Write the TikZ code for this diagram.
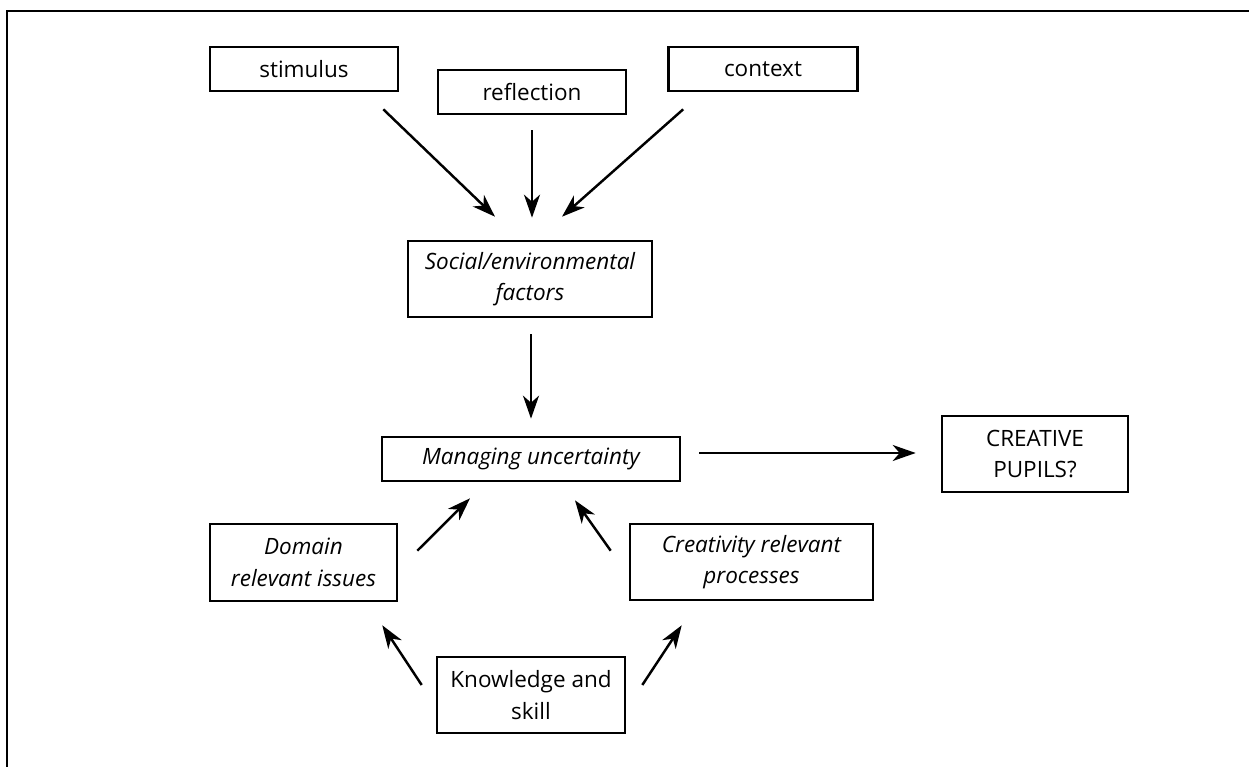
\documentclass[tikz,border=0pt]{standalone}
\usepackage{fontspec}
\setmainfont{Open Sans}
\usepackage{tikz}
\usetikzlibrary{calc}
\usetikzlibrary{arrows.meta}

\begin{document}
\begin{tikzpicture}[
	x=0.02cm, y=-0.02cm,
	factor/.style={
		draw,
		line width=1.5pt,
		inner sep=0pt,
		align=center,
		font=\fontsize{12.8}{18}\selectfont
	},
	link/.style={line width=1.4pt, -{Stealth[length=4.6mm, width=3.2mm, inset=1.4mm]}}
]

\useasboundingbox (0,0) rectangle (1249,767);
\draw[line width=1.7pt] (7,767) -- (7,11) -- (1249,11);

% inputs
\node[factor, minimum width=3.76cm, minimum height=0.88cm] (stimulus) at (304,69) {stimulus};
\node[factor, minimum width=3.76cm, minimum height=0.88cm] (reflection) at (532,92) {reflection};
\node[factor, minimum width=3.78cm, minimum height=0.88cm] (context) at (763,69) {context};

\node[factor, minimum width=4.88cm, minimum height=1.52cm] (social) at (530,279)
	{\itshape Social/environmental\\\itshape factors};

\node[factor, minimum width=5.96cm, minimum height=0.88cm] (managing) at (531,459)
	{\itshape Managing uncertainty};

\node[factor, minimum width=3.72cm, minimum height=1.52cm] (pupils) at (1035,454)
	{CREATIVE\\PUPILS?};

\node[factor, minimum width=3.74cm, minimum height=1.54cm] (domain) at (303.5,562.5)
	{\itshape Domain\\\itshape relevant issues};
\node[factor, minimum width=4.86cm, minimum height=1.52cm] (creativity) at (751.5,562)
	{\itshape Creativity relevant\\\itshape processes};

\node[factor, minimum width=3.76cm, minimum height=1.52cm] (knowledge) at (531,695)
	{Knowledge and\\skill};

% arrows
\draw[link] ($(stimulus.south east)+(-16,17)$) -- ($(social.north)+(-35,-23)$);
\draw[link] ($(reflection.south)+(0,15)$) -- ($(reflection.south |- social.north)+(0,-22)$);
\draw[link] ($(context.south west)+(16,17)$) -- ($(social.north)+(32,-23)$);

\draw[link] ($(social.south)+(1,16)$) -- ($(managing.north)+(0,-17)$);
\draw[link] ($(managing.east)+(18,-6)$) -- ($(pupils.west)+(-25,-1)$);

\draw[link] ($(domain.north east)+(19,28)$) -- ($(managing.south)+(-61,16)$);
\draw[link] ($(creativity.north west)+(-18,28)$) -- ($(managing.south)+(44,18)$);

\draw[link] ($(knowledge.west)+(-14,-10)$) -- ($(domain.south east)+(-16,23)$);
\draw[link] ($(knowledge.east)+(16,-10)$) -- ($(creativity.south west)+(53,24)$);

\end{tikzpicture}
\end{document}
